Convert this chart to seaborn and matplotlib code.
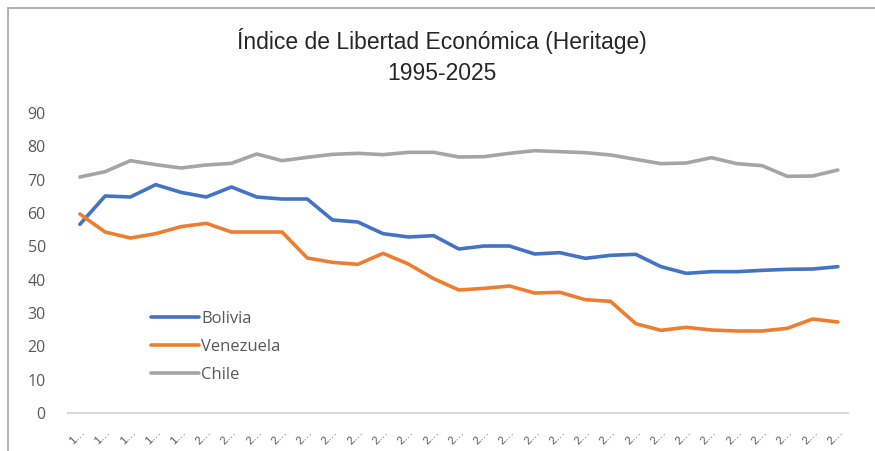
import numpy as np
import pandas as pd
import seaborn as sns
import matplotlib.pyplot as plt
from matplotlib.lines import Line2D

# ── Data ─────────────────────────────────────────────────────────────────────
years = list(range(1995, 2026))
bolivia = [56.6, 65.1, 64.8, 68.5, 66.2, 64.8, 67.8, 64.8, 64.2, 64.2, 57.9,
           57.3, 53.8, 52.8, 53.2, 49.2, 50.1, 50.1, 47.7, 48.1, 46.4, 47.3,
           47.6, 43.9, 41.9, 42.4, 42.4, 42.8, 43.1, 43.2, 43.9]
venezuela = [59.7, 54.3, 52.5, 53.8, 55.9, 56.9, 54.3, 54.3, 54.3, 46.5, 45.2,
             44.6, 47.9, 44.7, 40.3, 36.9, 37.4, 38.1, 36.0, 36.2, 34.0, 33.5,
             26.8, 24.8, 25.7, 24.9, 24.6, 24.6, 25.4, 28.2, 27.3]
chile = [70.8, 72.4, 75.7, 74.5, 73.5, 74.4, 74.9, 77.7, 75.7, 76.7, 77.6,
         77.9, 77.5, 78.2, 78.2, 76.8, 76.9, 77.9, 78.7, 78.4, 78.1, 77.4,
         76.1, 74.8, 75.0, 76.6, 74.8, 74.2, 71.0, 71.1, 72.9]
series_names = ["Bolivia", "Venezuela", "Chile"]
series_colors = ["#4472C4", "#ED7D31", "#A5A5A5"]
tick_labels = [str(y)[0] + "\u2026" for y in years]
y_ticks = list(range(0, 100, 10))

df = pd.DataFrame({"year": years, "Bolivia": bolivia,
                   "Venezuela": venezuela, "Chile": chile})
long_df = df.melt(id_vars="year", var_name="pais", value_name="indice")
long_df["pos"] = long_df["year"] - years[0]

# ── Plot ─────────────────────────────────────────────────────────────────────
sns.set_style("white")
plt.rcParams["font.family"] = ["Liberation Sans", "DejaVu Sans"]
label_font = ["Open Sans", "DejaVu Sans"]

fig = plt.figure(figsize=(8.75, 4.51), dpi=100)
ax = fig.add_axes([68 / 875, 1 - 413 / 451, 780 / 875, 300 / 451])

sns.lineplot(data=long_df, x="pos", y="indice", hue="pais",
             hue_order=series_names, palette=series_colors,
             linewidth=2.6, ax=ax, legend=True)

ax.set_xlim(-0.47, 30.4)
ax.set_ylim(0, 90)
ax.set_yticks(y_ticks)
ax.set_yticklabels([str(t) for t in y_ticks], fontsize=11.5, color="#595959",
                   family=label_font)
ax.set_xticks(range(len(years)))
ax.set_xticklabels(tick_labels, rotation=45, fontsize=8, color="#595959",
                   ha="right", rotation_mode="anchor")
ax.tick_params(axis="y", length=0, pad=16)
ax.tick_params(axis="x", length=0, pad=10)
ax.set_xlabel("")
ax.set_ylabel("")

for side in ["top", "right", "left"]:
    ax.spines[side].set_visible(False)
ax.spines["bottom"].set_color("#D9D9D9")
ax.spines["bottom"].set_linewidth(1.5)

handles, labels = ax.get_legend_handles_labels()
leg = ax.legend(handles, labels, loc="upper left", frameon=False,
                bbox_to_anchor=(136 / 875, 1 - 296 / 451),
                bbox_transform=fig.transFigure,
                handlelength=2.9, handletextpad=0.1, labelspacing=0.72,
                prop={"family": label_font, "size": 12})
for t in leg.get_texts():
    t.set_color("#595959")

fig.text(0.505, 1 - 41 / 451, "Índice de Libertad Económica (Heritage)",
         ha="center", va="center", fontsize=16.5, color="#262626")
fig.text(0.505, 1 - 73 / 451, "1995-2025",
         ha="center", va="center", fontsize=16.5, color="#262626")

# chart frame (left and top edges visible in the reference)
fig.add_artist(Line2D([8 / 875, 8 / 875], [0, 1 - 8 / 451],
                      transform=fig.transFigure, color="#A6A6A6", lw=1.2))
fig.add_artist(Line2D([8 / 875, 1], [1 - 8 / 451, 1 - 8 / 451],
                      transform=fig.transFigure, color="#A6A6A6", lw=1.2))

fig.savefig("out.png", dpi=100)
plt.close(fig)
